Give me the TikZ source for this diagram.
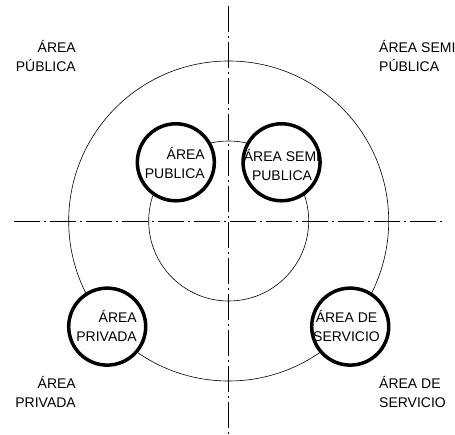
\documentclass[tikz,border=0pt]{standalone}
\usepackage{fontspec}
\setmainfont{Liberation Sans}
\begin{document}
\begin{tikzpicture}[x=1pt,y=1pt,
  zona/.style={circle,draw,line width=3.5pt,fill=white,minimum size=77pt,inner sep=0pt},
  rotulo/.style={font=\fontsize{14}{19}\selectfont,inner sep=0pt},
  eje/.style={line width=0.8pt,dash pattern=on 26pt off 4pt on 2pt off 4pt}]
\useasboundingbox (-228.7,-214) rectangle (226.3,221);
\coordinate (c) at (0,0);
% ejes
\coordinate (w) at (-214.7,0);
\coordinate (e) at (214.3,0);
\coordinate (n) at (0,215);
\coordinate (s) at (0,-214);
\draw[eje] (w) -- (e);
\draw[eje] (n) -- (s);
% anillos
\draw[line width=0.6pt] (c) circle (160pt);
\draw[line width=0.6pt] (c) circle (80pt);
% zonas
\node[zona] (pub) at (132:79pt) {};
\node[zona] (semi) at (48:79pt) {};
\node[zona] (priv) at (-139:161pt) {};
\node[zona] (serv) at (-41:161pt) {};
\node[rotulo,align=right,anchor=east] at (-23.7,58) {ÁREA\\PUBLICA};
\node[rotulo,align=center] at (53.3,56) {ÁREA SEMI\\PUBLICA};
\node[rotulo,align=right,anchor=east] at (-91.7,-105) {ÁREA\\PRIVADA};
\node[rotulo,align=center] at (117.8,-105) {ÁREA DE\\SERVICIO};
% rotulos de esquina
\node[rotulo,align=right,anchor=east] at (-152.7,164.5) {ÁREA\\PÚBLICA};
\node[rotulo,align=left,anchor=west] at (150.3,164.5) {ÁREA SEMI\\PÚBLICA};
\node[rotulo,align=right,anchor=east] at (-152.7,-171) {ÁREA\\PRIVADA};
\node[rotulo,align=left,anchor=west] at (150.3,-171) {ÁREA DE\\SERVICIO};
\end{tikzpicture}
\end{document}
